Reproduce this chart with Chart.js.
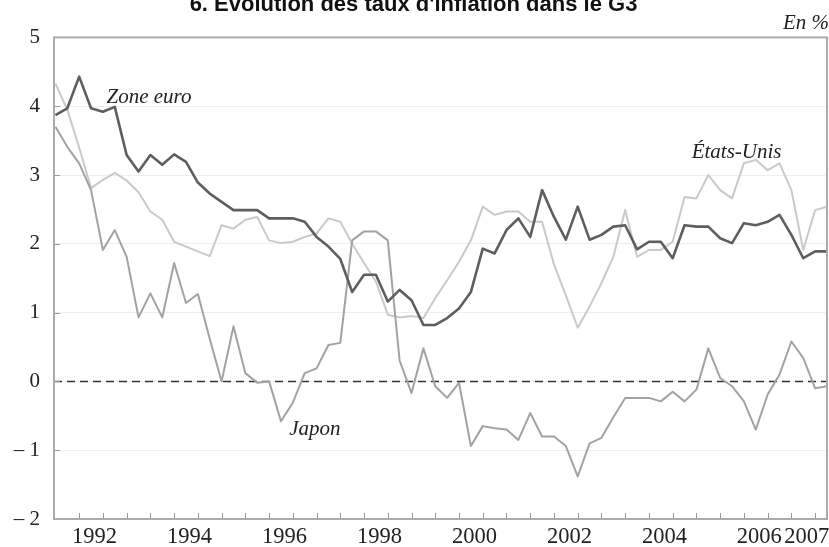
<!DOCTYPE html>
<html>
<head>
<meta charset="utf-8">
<script src="https://cdn.jsdelivr.net/npm/chart.js@4.4.0/dist/chart.umd.min.js"></script>
<style>
  html, body { margin: 0; padding: 0; background: #fff; overflow: hidden; }
  #chart { display: block; margin-top: -8px; }
</style>
</head>
<body>
<canvas id="chart" width="829" height="555"></canvas>
<script>
// Quarterly inflation, % year on year, 1991 T3 -> 2007 T4
const quarters = [];
for (let y = 1991; y <= 2007; y++) {
  for (let q = 1; q <= 4; q++) {
    if (y === 1991 && q < 3) continue;
    quarters.push(y + 'T' + q);
  }
}

const zoneEuro = [
  3.87, 3.97, 4.43, 3.97, 3.92, 3.99, 3.29, 3.05, 3.29, 3.15,
  3.30, 3.19, 2.89, 2.73, 2.61, 2.49, 2.49, 2.49, 2.37, 2.37,
  2.37, 2.32, 2.10, 1.96, 1.78, 1.30, 1.55, 1.55, 1.16, 1.33,
  1.18, 0.82, 0.82, 0.92, 1.06, 1.30, 1.93, 1.86, 2.20, 2.37,
  2.10, 2.78, 2.39, 2.06, 2.54, 2.06, 2.13, 2.25, 2.27, 1.92,
  2.03, 2.03, 1.79, 2.27, 2.25, 2.25, 2.08, 2.01, 2.30, 2.27,
  2.32, 2.42, 2.13, 1.79, 1.89, 1.89
];

const etatsUnis = [
  4.33, 3.95, 3.40, 2.81, 2.93, 3.03, 2.92, 2.75, 2.47, 2.35,
  2.03, 1.96, 1.89, 1.82, 2.27, 2.22, 2.35, 2.39, 2.05, 2.01,
  2.03, 2.10, 2.15, 2.37, 2.32, 2.00, 1.72, 1.45, 0.97, 0.93,
  0.95, 0.92, 1.21, 1.47, 1.74, 2.05, 2.54, 2.42, 2.47, 2.47,
  2.32, 2.32, 1.70, 1.25, 0.78, 1.09, 1.43, 1.81, 2.49, 1.81,
  1.91, 1.91, 2.03, 2.68, 2.66, 3.00, 2.78, 2.66, 3.17, 3.22,
  3.07, 3.17, 2.78, 1.91, 2.49, 2.54
];

const japon = [
  3.70, 3.41, 3.17, 2.78, 1.91, 2.20, 1.81, 0.93, 1.28, 0.93,
  1.72, 1.14, 1.27, 0.62, 0.00, 0.80, 0.12, -0.02, 0.00, -0.58,
  -0.31, 0.12, 0.19, 0.53, 0.56, 2.05, 2.18, 2.18, 2.05, 0.30,
  -0.17, 0.48, -0.07, -0.24, -0.02, -0.94, -0.65, -0.68, -0.70, -0.85,
  -0.46, -0.80, -0.80, -0.94, -1.38, -0.90, -0.82, -0.52, -0.24, -0.24,
  -0.24, -0.29, -0.15, -0.29, -0.12, 0.48, 0.05, -0.07, -0.29, -0.70,
  -0.19, 0.10, 0.58, 0.34, -0.10, -0.07
];

const tickYears = [1992, 1994, 1996, 1998, 2000, 2002, 2004, 2006, 2007];

// year label sits near the middle of its four quarters
function yearPos(yr) {
  return quarters.indexOf(yr + 'T2') + 0.3;
}

function toPoints(arr) {
  return arr.map((v, i) => ({ x: i, y: v }));
}

const serif = 'Liberation Serif';

const overlay = {
  id: 'overlay',
  beforeDatasetsDraw(chart) {
    const { ctx, chartArea: a, scales: { y } } = chart;
    const y0 = y.getPixelForValue(0);
    ctx.save();
    ctx.strokeStyle = '#333';
    ctx.lineWidth = 1.5;
    ctx.setLineDash([8, 5]);
    ctx.beginPath();
    ctx.moveTo(a.left, y0);
    ctx.lineTo(a.right, y0);
    ctx.stroke();
    ctx.restore();
  },
  afterDraw(chart) {
    const { ctx, chartArea: a, scales: { x, y } } = chart;
    ctx.save();

    // small tick marks pointing into the plot
    ctx.strokeStyle = '#999';
    ctx.lineWidth = 1;
    ctx.beginPath();
    for (let i = 2; i < quarters.length; i += 2) {
      const px = Math.round(x.getPixelForValue(i)) + 0.5;
      ctx.moveTo(px, a.bottom);
      ctx.lineTo(px, a.bottom - 6);
    }
    for (let v = -1; v <= 4; v++) {
      const py = Math.round(y.getPixelForValue(v)) + 0.5;
      ctx.moveTo(a.left, py);
      ctx.lineTo(a.left + 6, py);
    }
    ctx.stroke();

    // frame
    ctx.strokeStyle = '#ababab';
    ctx.lineWidth = 2;
    ctx.strokeRect(a.left, a.top, a.right - a.left, a.bottom - a.top);

    // series names
    ctx.fillStyle = '#222';
    ctx.font = 'italic 21px "' + serif + '"';
    ctx.textAlign = 'left';
    ctx.textBaseline = 'alphabetic';
    ctx.fillText('Zone euro', x.getPixelForValue(4.3), y.getPixelForValue(4.04));
    ctx.fillText('États-Unis', x.getPixelForValue(53.6), y.getPixelForValue(3.245));
    ctx.fillText('Japon', x.getPixelForValue(19.7), y.getPixelForValue(-0.775));

    // unit
    ctx.font = 'italic 21px "' + serif + '"';
    ctx.textAlign = 'right';
    ctx.fillText('En %', a.right + 2, a.top - 8);
    ctx.restore();
  }
};

const ctx = document.getElementById('chart');

new Chart(ctx, {
  type: 'line',
  data: {
    datasets: [
      {
        label: 'Zone euro',
        data: toPoints(zoneEuro),
        borderColor: '#5e5e5e',
        borderWidth: 2.6,
        order: 1
      },
      {
        label: 'Japon',
        data: toPoints(japon),
        borderColor: '#a2a2a2',
        borderWidth: 2,
        order: 2
      },
      {
        label: 'États-Unis',
        data: toPoints(etatsUnis),
        borderColor: '#c9c9c9',
        borderWidth: 2,
        order: 3
      }
    ]
  },
  options: {
    responsive: false,
    animation: false,
    devicePixelRatio: 1,
    layout: { padding: { top: 0, right: 2, left: 0, bottom: 0 } },
    elements: {
      point: { radius: 0 },
      line: { tension: 0, borderJoinStyle: 'round' }
    },
    plugins: {
      legend: { display: false },
      tooltip: { enabled: false },
      title: {
        display: true,
        text: '6. Évolution des taux d\'inflation dans le G3',
        color: '#111',
        font: { family: 'Liberation Sans', size: 22, weight: 'bold' },
        padding: { top: 0, bottom: 19 }
      }
    },
    scales: {
      x: {
        type: 'linear',
        min: -0.12,
        max: 65,
        afterBuildTicks: (scale) => {
          scale.ticks = tickYears.map(yr => ({ value: yearPos(yr) }));
        },
        afterFit: (scale) => {
          scale.height = 28;
          scale.paddingLeft = 0;
          scale.paddingRight = 0;
        },
        grid: { display: false, drawTicks: false },
        border: { display: false },
        ticks: {
          autoSkip: false,
          maxRotation: 0,
          padding: 5,
          color: '#222',
          font: { family: serif, size: 22.5 },
          callback: (value, index) => String(tickYears[index])
        }
      },
      y: {
        min: -2,
        max: 5,
        afterFit: (scale) => { scale.width = 54; },
        grid: { color: '#eeeeee', drawTicks: false },
        border: { display: false },
        ticks: {
          stepSize: 1,
          padding: 14,
          color: '#222',
          font: { family: serif, size: 21 },
          callback: (v) => v < 0 ? '\u2013 ' + Math.abs(v) : String(v)
        }
      }
    }
  },
  plugins: [overlay]
});
</script>
</body>
</html>
